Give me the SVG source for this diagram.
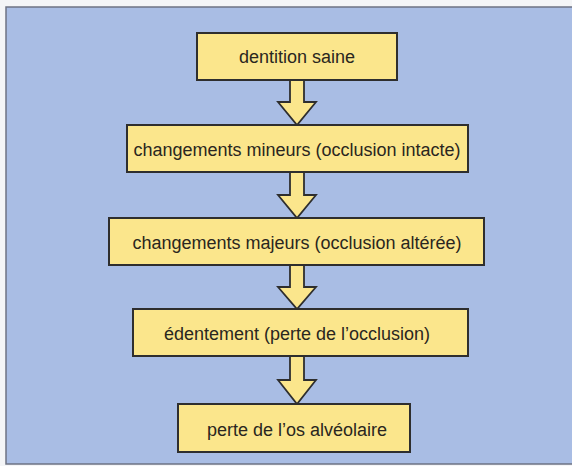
<svg xmlns="http://www.w3.org/2000/svg" width="572" height="466" viewBox="0 0 572 466">
<style>
.bg{fill:#f4f5f7}
.panel{fill:#a9bde4;stroke:#6d7384;stroke-width:1.5}
.box{fill:#fbe68c;stroke:#2e2e2e;stroke-width:2}
.arrow{fill:#fbe68c;stroke:#2e2e2e;stroke-width:1.8;stroke-linejoin:miter}
.lbl{font-family:"Liberation Sans","DejaVu Sans",sans-serif;font-size:18px;fill:#2a2620;text-anchor:middle}
</style>
<rect class="bg" x="0" y="0" width="572" height="466"/>
<rect class="panel" x="6" y="7" width="570" height="457"/>
<g id="connectors">
<path class="arrow" d="M290,80 L290,102 L278,102 L297,125 L316,102 L304,102 L304,80"/>
<path class="arrow" d="M290,172 L290,195 L278,195 L297,218 L316,195 L304,195 L304,172"/>
<path class="arrow" d="M290,265 L290,287 L278,287 L297,309 L316,287 L304,287 L304,265"/>
<path class="arrow" d="M290,356 L290,380 L278,380 L297,404 L316,380 L304,380 L304,356"/>
</g>
<g id="n1"><rect class="box" x="197" y="33" width="200" height="47"/><text class="lbl" x="297" y="63">dentition saine</text></g>
<g id="n2"><rect class="box" x="127" y="125" width="341" height="47"/><text class="lbl" x="297" y="156">changements mineurs (occlusion intacte)</text></g>
<g id="n3"><rect class="box" x="109" y="218" width="375" height="47"/><text class="lbl" x="297" y="249">changements majeurs (occlusion altérée)</text></g>
<g id="n4"><rect class="box" x="133" y="309" width="335" height="47"/><text class="lbl" x="297" y="340">édentement (perte de l’occlusion)</text></g>
<g id="n5"><rect class="box" x="178" y="404" width="232" height="48"/><text class="lbl" x="297" y="436">perte de l’os alvéolaire</text></g>
</svg>
